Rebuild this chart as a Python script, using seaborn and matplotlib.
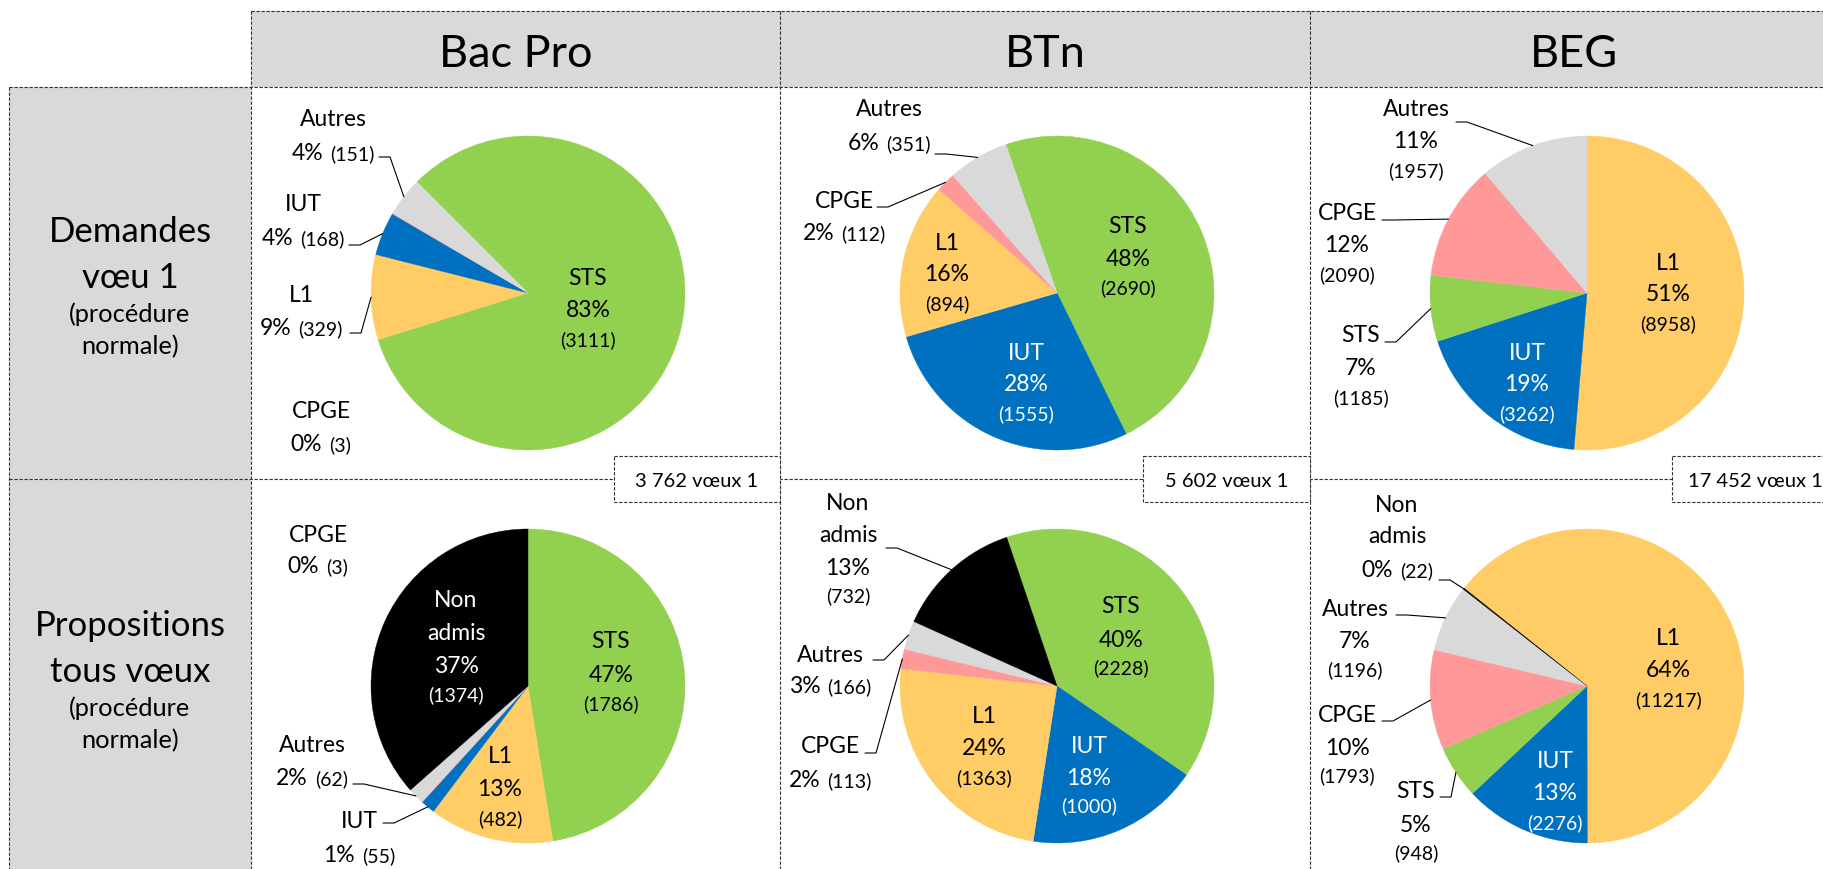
import matplotlib
matplotlib.use("Agg")
import matplotlib.pyplot as plt
from matplotlib.patches import Rectangle
import seaborn as sns
import numpy as np

W, H = 1823, 869
sns.set_theme(style="white")
plt.rcParams['font.family'] = ['Lato', 'DejaVu Sans']

# ---------------- data ----------------
columns = ["Bac Pro", "BTn", "BEG"]
row_titles = [["Demandes", "vœu 1"], ["Propositions", "tous vœux"]]
row_subtitle = ["(procédure", "normale)"]

bacpro_demandes_labels = ["STS", "L1", "IUT", "CPGE", "Autres"]
bacpro_demandes_counts = [3111, 329, 168, 3, 151]
btn_demandes_labels = ["STS", "IUT", "L1", "CPGE", "Autres"]
btn_demandes_counts = [2690, 1555, 894, 112, 351]
beg_demandes_labels = ["L1", "IUT", "STS", "CPGE", "Autres"]
beg_demandes_counts = [8958, 3262, 1185, 2090, 1957]

bacpro_prop_labels = ["STS", "L1", "IUT", "CPGE", "Autres", "Non admis"]
bacpro_prop_counts = [1786, 482, 55, 3, 62, 1374]
btn_prop_labels = ["STS", "IUT", "L1", "CPGE", "Autres", "Non admis"]
btn_prop_counts = [2228, 1000, 1363, 113, 166, 732]
beg_prop_labels = ["L1", "IUT", "STS", "CPGE", "Autres", "Non admis"]
beg_prop_counts = [11217, 2276, 948, 1793, 1196, 22]

colors = {"STS": "#92D050", "L1": "#FFCC66", "IUT": "#0070C0",
          "CPGE": "#FF9999", "Autres": "#D9D9D9", "Non admis": "#000000"}

pies = [
    (bacpro_demandes_labels, bacpro_demandes_counts),
    (btn_demandes_labels, btn_demandes_counts),
    (beg_demandes_labels, beg_demandes_counts),
    (bacpro_prop_labels, bacpro_prop_counts),
    (btn_prop_labels, btn_prop_counts),
    (beg_prop_labels, beg_prop_counts),
]

# ---------------- layout (pixels) ----------------
start_angles = [135, 109, 90, 90, 108.7, 141.5]
centers = [(528, 293), (1057, 293), (1587, 293), (528, 686), (1057, 686), (1587, 686)]
R = 157

# (x center, line y centers, leader start, inside)
label_layout = [
    {"STS": (588, [277, 309, 339], None, True),
     "Autres": (333, [118, 152], (379, 157), False),
     "IUT": (303, [203, 237], (349, 245), False),
     "L1": (301, [294, 327], (350, 333), False),
     "CPGE": (321, [410, 443], None, False)},
    {"STS": (1128, [225, 258, 287], None, True),
     "IUT": (1026, [352, 383, 413], None, True),
     "L1": (947, [242, 273, 303], None, True),
     "Autres": (889, [108, 142], (935, 154), False),
     "CPGE": (844, [200, 232], (877, 207), False)},
    {"L1": (1668, [262, 293, 323], None, True),
     "IUT": (1527, [352, 383, 413], None, True),
     "Autres": (1416, [108, 140, 170], (1456, 122), False),
     "CPGE": (1347, [212, 244, 274], (1382, 220), False),
     "STS": (1361, [334, 367, 397], (1385, 342), False)},
    {"STS": (611, [640, 674, 703], None, True),
     "Non admis": (456, [599, 632, 665, 694], None, True),
     "L1": (500, [755, 788, 818], None, True),
     "CPGE": (318, [534, 565], None, False),
     "Autres": (312, [744, 777], (353, 784), False),
     "IUT": (359, [820, 854], (383, 823), False)},
    {"STS": (1121, [605, 639, 667], None, True),
     "IUT": (1089, [745, 777, 805], None, True),
     "L1": (984, [715, 747, 777], None, True),
     "Non admis": (848, [502, 534, 567, 595], (886, 548), False),
     "Autres": (830, [654, 685], (873, 660), False),
     "CPGE": (830, [745, 779], (865, 753), False)},
    {"L1": (1668, [637, 669, 699], None, True),
     "IUT": (1555, [760, 792, 822], None, True),
     "Non admis": (1397, [504, 535, 569], (1439, 580), False),
     "Autres": (1355, [608, 640, 669], (1396, 615), False),
     "CPGE": (1347, [714, 747, 775], (1382, 721), False),
     "STS": (1416, [790, 824, 852], (1440, 797), False)},
]

MAIN, SMALL = 16.5, 14
CAP = 0.72

fig = plt.figure(figsize=(W / 100, H / 100), dpi=100)
bg = fig.add_axes([0, 0, 1, 1])
bg.set_zorder(0)
bg.set_xlim(0, W); bg.set_ylim(H, 0); bg.axis("off")
fg = fig.add_axes([0, 0, 1, 1])
fg.set_zorder(10)
fg.set_xlim(0, W); fg.set_ylim(H, 0); fg.axis("off")
fg.patch.set_alpha(0)

renderer = fig.canvas.get_renderer()


def pt2px(pt):
    return pt * 100 / 72


def draw_line(ax, xc, yc, segs, color="black", gap=7):
    texts, widths = [], []
    for s, size in segs:
        t = ax.text(0, 0, s, fontsize=size, color=color, ha="left", va="baseline")
        widths.append(t.get_window_extent(renderer=renderer).width)
        texts.append(t)
    total = sum(widths) + gap * (len(segs) - 1)
    x = xc - total / 2
    base = yc + CAP * pt2px(max(sz for _, sz in segs)) / 2
    for t, w in zip(texts, widths):
        t.set_position((x, base))
        x += w + gap


# ---------------- grid / headers ----------------
grey = "#D9D9D9"
bg.add_patch(Rectangle((251, 11), W - 251 + 20, 76, fc=grey, ec="none"))
bg.add_patch(Rectangle((9, 87), 242, H - 87 + 10, fc=grey, ec="none"))
dash = dict(color="#303030", lw=0.8, ls=(0, (3, 1.5)))
bg.plot([251, W], [11, 11], **dash)
bg.plot([9, W], [87, 87], **dash)
bg.plot([9, W], [479, 479], **dash)
for x, y0 in [(9, 87), (251, 11), (780, 11), (1310, 11)]:
    bg.plot([x, x], [y0, H], **dash)

col_x = [515.5, 1045, 1574]
for name, x in zip(columns, col_x):
    draw_line(fg, x, 51, [(name, 32.5)])

row_ys = [[230, 275, 313, 345], [624, 670, 707, 739]]
for titles, ys in zip(row_titles, row_ys):
    draw_line(fg, 130, ys[0], [(titles[0], 25)])
    draw_line(fg, 130, ys[1], [(titles[1], 25)])
    draw_line(fg, 130, ys[2], [(row_subtitle[0], 18.3)])
    draw_line(fg, 130, ys[3], [(row_subtitle[1], 18.3)])

# total boxes
boxes = [(614, 166), (1143, 167), (1672, 166)]
for (bx, bw), (labels, counts) in zip(boxes, pies[:3]):
    bg.add_patch(Rectangle((bx, 456), bw, 46, fc="white", ec="#303030",
                           lw=0.8, ls=(0, (3, 1.5)), zorder=3))
    total = f"{sum(counts):,}".replace(",", " ")
    draw_line(fg, bx + bw / 2, 480, [(f"{total} vœux 1", 14.5)])

# ---------------- pies ----------------
for i, ((labels, counts), (cx, cy), sa) in enumerate(zip(pies, centers, start_angles)):
    ax = fig.add_axes([(cx - R) / W, 1 - (cy + R) / H, 2 * R / W, 2 * R / H])
    ax.set_zorder(5)
    wedges, _ = ax.pie(counts, colors=[colors[c] for c in labels], startangle=sa,
                       counterclock=False, radius=1,
                       wedgeprops=dict(linewidth=0.3))
    for w in wedges:
        w.set_edgecolor(w.get_facecolor())
    ax.set_xlim(-1, 1); ax.set_ylim(-1, 1); ax.set_aspect("equal")
    ax.axis("off")
    total = sum(counts)
    for lab, cnt, w in zip(labels, counts, wedges):
        x, ys, leader, inside = label_layout[i][lab]
        pct = f"{round(100 * cnt / total)}%"
        cnt_s = f"({cnt})"
        color = "white" if inside and lab in ("IUT", "Non admis") else "black"
        name_lines = lab.split(" ") if lab == "Non admis" else [lab]
        for nl, y in zip(name_lines, ys):
            draw_line(fg, x, y, [(nl, MAIN)], color)
        rest = ys[len(name_lines):]
        if len(rest) == 2:
            draw_line(fg, x, rest[0], [(pct, MAIN)], color)
            draw_line(fg, x, rest[1], [(cnt_s, SMALL)], color)
        else:
            draw_line(fg, x, rest[0], [(pct, MAIN), (cnt_s, SMALL)], color)
        if leader is not None:
            mid = np.deg2rad((w.theta1 + w.theta2) / 2)
            ex, ey = cx + R * np.cos(mid), cy - R * np.sin(mid)
            x0, y0 = leader
            fg.plot([x0, x0 + 11, ex], [y0, y0, ey], color="black", lw=0.8)

fig.savefig("out.png", dpi=100)
